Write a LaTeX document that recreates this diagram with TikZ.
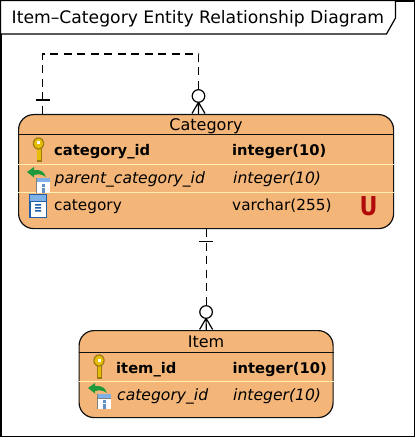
\documentclass[tikz,border=0pt]{standalone}
\usepackage{fontspec}
\usetikzlibrary{calc}
\setmainfont{DejaVu Sans}
\definecolor{ent}{HTML}{F4B678}
\definecolor{sepc}{HTML}{FFF0B0}
\definecolor{lineK}{HTML}{111111}
\definecolor{keyY}{HTML}{E6BE0A}
\definecolor{keyD}{HTML}{9A7A10}
\definecolor{blueD}{HTML}{1F5FA8}
\definecolor{blueL}{HTML}{7FB0E6}
\definecolor{greenA}{HTML}{1E9A3C}
\definecolor{uRed}{HTML}{B00A0A}
\tikzset{
  x=1pt,y=-1pt,
  entity/.style={draw=lineK,line width=1.2pt,fill=ent,rounded corners=15pt,inner sep=0pt},
  conn/.style={draw=black,line width=1.2pt,dash pattern=on 8pt off 5.5pt},
  seprule/.style={draw=sepc,line width=1pt},
  hdrrule/.style={draw=lineK,line width=1pt},
  nm/.style={anchor=base west,inner sep=0pt,font=\fontsize{15.3}{18}\selectfont},
  bnm/.style={nm,font=\fontsize{14.7}{18}\selectfont\bfseries},
  inm/.style={nm,font=\fontsize{15.6}{18}\selectfont\itshape},
  hdr/.style={anchor=base,inner sep=0pt,font=\fontsize{16}{18}\selectfont},
  crow/.pic={
    \draw[black,line width=1.2pt,fill=white] (0,0) circle (6.3);
    \draw[black,line width=1.2pt] (0,6.3) -- (0,17.5) (0,6.3) -- (-6.5,17.5) (0,6.3) -- (6.5,17.5);
  },
  onetick/.pic={\draw[black,line width=1.2pt] (-7,0) -- (7,0);},
  keyicon/.pic={
    \fill[keyD] (-2,8) rectangle (3,22);
    \fill[keyY] (-1.5,8) rectangle (2,20);
    \fill[keyD] (0,3.5) ellipse (5.7 and 6.2);
    \fill[keyY] (0,3.5) ellipse (4.6 and 5);
    \fill[white] (-1.5,1.5) rectangle (1.5,4.5);
  },
  tableicon/.pic={
    \fill[blueD] (0,0) rectangle (18,24);
    \fill[blueL] (1,1) rectangle (17,7);
    \fill[white] (1.5,8) rectangle (16.5,22.5);
    \fill[blueD] (6,10) rectangle (12,11.5) (6,13) rectangle (12,14.5) (6,16) rectangle (12,17.5);
  },
  fkicon/.pic={
    \fill[greenA] (0,3) -- (7,-2) -- (7,1) .. controls (13,0.5) and (17,2) .. (19,8) .. controls (15,5) and (11,5) .. (7,6) -- (7,8.5) -- cycle;
    \fill[gray] (9,9) rectangle (23,24);
    \fill[blueL] (9.5,9) rectangle (23,13);
    \fill[white] (10,13.5) rectangle (22.5,24);
    \fill[blueD!70] (14.5,15) rectangle (18,24);
    \fill[white] (14.5,18) rectangle (18,19);
  }
}
\begin{document}
\begin{tikzpicture}
\useasboundingbox (0,0) rectangle (416,438);
\fill[white] (0,0) rectangle (416,438);
% frame
\node[draw=black,line width=1.2pt,inner sep=0pt,anchor=north west,minimum width=413pt,minimum height=435pt] (frame) at (0.5,0.5) {};
\draw[black,line width=1.2pt,fill=white] (0.5,0.5) -- (395.5,0.5) -- (395.5,18) -- (386.5,34) -- (0.5,34) -- cycle;
\node[anchor=base west,inner sep=0pt,font=\fontsize{17.2}{20}\selectfont] (title) at (11.5,24) {Item–Category Entity Relationship Diagram};
% entities
\node[entity,anchor=north west,minimum width=375pt,minimum height=114pt] (cat) at (18,114) {};
\node[entity,anchor=north west,minimum width=254pt,minimum height=87pt] (item) at (78.5,330) {};
% internal rules
\draw[hdrrule] (cat.west |- 0,135) -- (cat.east |- 0,135);
\draw[seprule] (cat.west |- 0,165) -- (cat.east |- 0,165);
\draw[seprule] (cat.west |- 0,192) -- (cat.east |- 0,192);
\draw[hdrrule] (item.west |- 0,352) -- (item.east |- 0,352);
\draw[seprule] (item.west |- 0,381) -- (item.east |- 0,381);
% texts
\node[hdr] (catT) at (206,131) {Category};
\node[bnm] (c1) at (54,156) {category\_id};
\node[bnm] (c1t) at (232,156) {integer(10)};
\node[inm] (c2) at (54.5,183) {parent\_category\_id};
\node[inm] (c2t) at (233,183) {integer(10)};
\node[nm] (c3) at (54,210) {category};
\node[nm] (c3t) at (232,210) {varchar(255)};
\node[anchor=base,inner sep=0pt,text=uRed,font=\fontsize{26}{28}\selectfont\bfseries] (u) at (368.5,215) {\scalebox{.85}[1]{U}};
\node[hdr] (itemT) at (206,347) {Item};
\node[bnm] (i1) at (116,373) {item\_id};
\node[bnm] (i1t) at (232.5,373) {integer(10)};
\node[inm] (i2) at (117,400) {category\_id};
\node[inm] (i2t) at (233,400) {integer(10)};
% icons
\pic at (38.5,140) {keyicon};
\pic at (29,194) {tableicon};
\pic at (27,169) {fkicon};
\pic at (99,357) {keyicon};
\pic at (88,385) {fkicon};
% connectors
\coordinate (selfA) at ($(cat.north west)+(24.5,0)$);
\coordinate (selfB) at ($(cat.north west)+(180.5,0)$);
\draw[conn] (selfA) -- ++(0,-60) -| (selfB);
\draw[conn] (cat.south) -- (item.north);
\pic at ($(selfA)+(0,-14)$) {onetick};
\pic at ($(cat.south)+(0,12)$) {onetick};
\pic at ($(selfB)+(0,-18)$) {crow};
\pic at ($(item.north)+(0,-18)$) {crow};
\end{tikzpicture}
\end{document}
